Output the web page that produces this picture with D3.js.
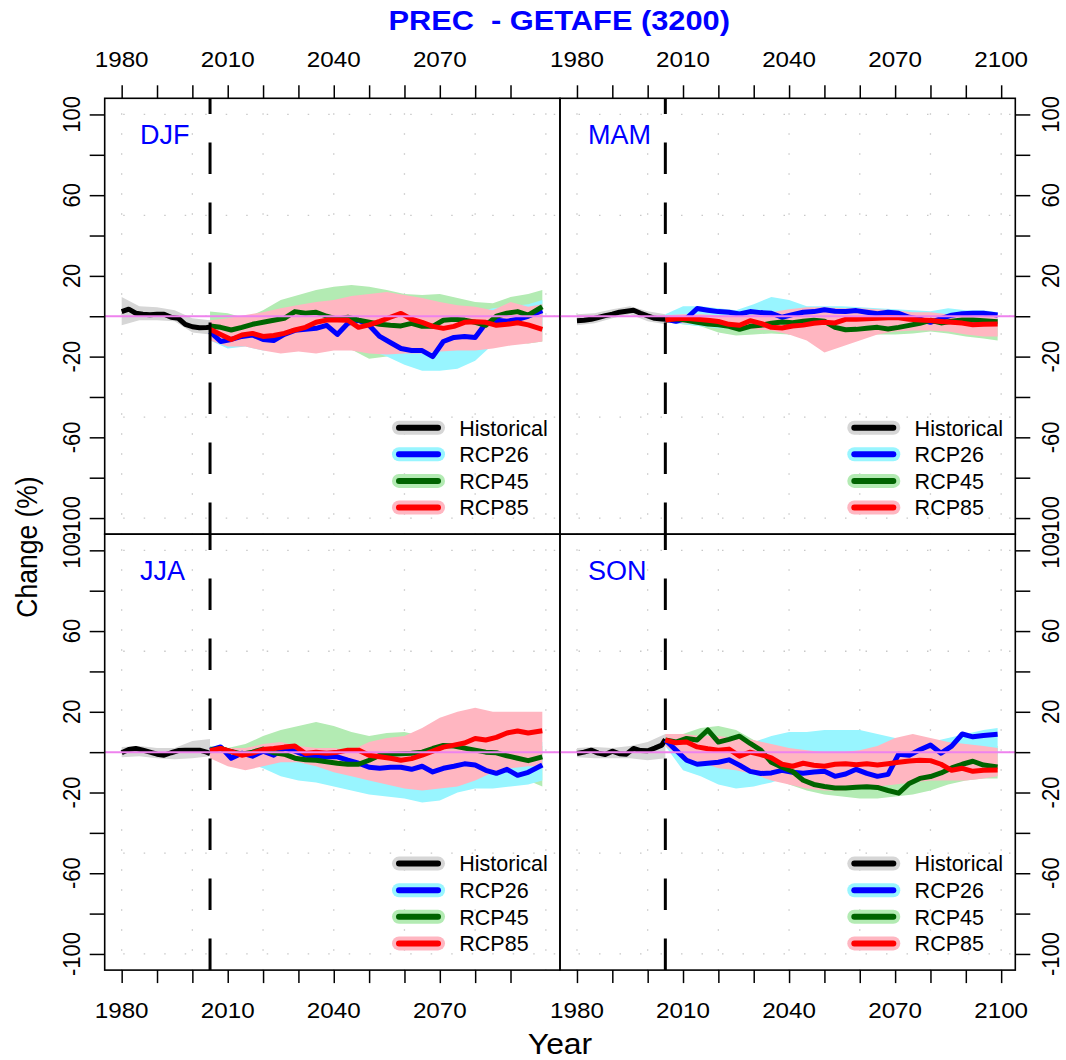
<!DOCTYPE html>
<html>
<head>
<meta charset="utf-8">
<script src="https://cdn.jsdelivr.net/npm/d3@7"></script>
<style>
  body { margin: 0; background: #fff; }
  text { font-family: "Liberation Sans", Arial, Helvetica, sans-serif; }
</style>
</head>
<body>
<div id="chart"></div>
<script>
// ---- data ----
const seasons = ["DJF", "MAM", "JJA", "SON"];
const legendNames = ["Historical", "RCP26", "RCP45", "RCP85"];
const xTickLabels = [1980, 2010, 2040, 2070, 2100];
const yTickLabels = [-100, -60, -20, 20, 60, 100];

const histYears = [1980, 1982, 1984, 1986, 1988, 1990, 1992, 1994, 1996, 1998, 2000, 2002, 2004, 2005];
const histBandYears = [1980, 1985, 1990, 1995, 2000, 2005];
const rcpYears = [2005, 2008, 2011, 2014, 2017, 2020, 2023, 2026, 2029, 2032, 2035, 2038, 2041, 2044, 2047, 2050,
                  2053, 2056, 2059, 2062, 2065, 2068, 2071, 2074, 2077, 2080, 2083, 2086, 2089, 2092, 2095, 2099];
const bandYears = [2005, 2010, 2015, 2020, 2025, 2030, 2035, 2040, 2045, 2050,
                   2055, 2060, 2065, 2070, 2075, 2080, 2085, 2090, 2095, 2099];

// DJF
const djfHist = [2.3, 3.5, 1.5, 1, 0.8, 1, 1, -0.5, -1, -4, -5.2, -5.7, -5.6, -5.5];
const djfHistLo = [-4.5, -2, -2, -2.5, -8, -9];
const djfHistHi = [9.5, 5, 4.5, 3, -1, -2];
const djfRcp26 = [-7.6, -12.5, -11.5, -10, -9.3, -11.5, -12, -9, -7, -6.5, -6, -4.5, -9, -3.5, -2, -4.5,
                  -10, -13, -16, -17, -17, -20, -12.5, -10.5, -10, -10.5, -3.5, -2, -2.5, -1.5, 0, 2.8];
const djfRcp45 = [-4.8, -5.5, -6.8, -5.5, -4, -3, -2, -1, 2.3, 1.5, 2, 0, -1.5, -0.5, -1.9, -3,
                  -4, -4.5, -4.8, -3.5, -5, -5, -2, -1.5, -1.9, -3, -4.5, 0, 1.5, 2.3, 0.6, 4.7];
const djfRcp85 = [-6.5, -9, -11.5, -9.3, -8.5, -10, -9.5, -8.5, -6.8, -5.5, -3, -1.9, -1.8, -2, -5.5, -4.3,
                  -2.5, -0.5, 1.4, -1.5, -3, -5, -6, -5, -3, -2.7, -3, -4.5, -4, -3.2, -4.3, -6.5];
const djfRcp26Lo = [-12, -16, -15, -17, -16, -14, -13, -15, -14, -17, -20, -24, -27, -27, -26, -22, -14, -12, -10, -8];
const djfRcp26Hi = [-2, -4, -3, 0, 3, 4, 5, 4, 6, 8, 6, 4, 2, 0, 1, 2, 4, 5, 6, 8];
const djfRcp45Lo = [-10, -15, -12, -12, -15, -16.5, -15, -13.5, -16.5, -21, -20, -16.5, -16.5, -16.5, -17.5, -15, -12, -12.5, -13.5, -12.5];
const djfRcp45Hi = [2.3, 1.5, -1, 3, 8, 10.5, 13, 14.6, 15.5, 14.6, 13, 11, 10.5, 11, 9, 7, 6.5, 9.5, 11, 13];
const djfRcp85Lo = [-12, -15, -15, -17, -18.5, -17.5, -18.5, -17, -17, -18.5, -19, -18.5, -18.5, -17.5, -17, -17, -16, -14.5, -13.5, -12.5];
const djfRcp85Hi = [-2, -1, 0.6, 2, 4, 5.6, 7, 8, 10, 11, 12, 10.5, 9, 7, 5.5, 4.7, 3, 7, 4.7, 6];

// MAM
const mamHist = [-2.2, -2, -1.5, -0.6, 0.3, 1, 2, 2.5, 3, 1.5, 0.2, -1, -1.4, -1.5];
const mamHistLo = [-4.5, -3.5, -1, 1, -2.5, -4];
const mamHistHi = [1, 1.5, 3.5, 5, 2.5, 1];
const mamRcp26 = [-1.5, -2.5, -1, 3.8, 3, 2.3, 2, 1.1, 2.3, 1.8, 1.5, -0.5, 0.8, 2, 2.3, 3.2,
                  2.5, 2.3, 2.8, 2, 1.2, 2, 1.5, -0.5, -1.5, -3, -1.2, 0.5, 1.3, 1.5, 1.5, 0.6];
const mamRcp45 = [-1.9, -1.2, -2, -3, -3.8, -4.2, -5, -6.5, -5, -4.5, -3.5, -2.8, -3.2, -2.5, -2, -2.5,
                  -5.5, -6.7, -6.5, -6, -5.5, -6.3, -5.5, -4.5, -3.5, -2, -3.3, -2.5, -1.9, -1.9, -2.2, -2.7];
const mamRcp85 = [-1.9, -1.3, -1, -1.5, -2, -2.6, -4, -4.5, -2.2, -3.5, -5.5, -5.8, -4.8, -4.4, -3.5, -3,
                  -3.3, -1.5, -1.5, -1.3, -1, -0.7, -0.8, -1.5, -1.8, -2.1, -2.6, -3, -3.4, -4.2, -4, -3.8];
const mamRcp26Lo = [-3, -4, -5, -6, -6, -6, -6.5, -7, -6.5, -5.5, -6, -6, -5.5, -6, -6, -6, -6, -6, -6, -5];
const mamRcp26Hi = [1, 5, 5, 4, 3, 6, 9.5, 8, 5, 5, 5, 4.5, 4, 3.5, 3, 2.5, 4, 3, 3, 2];
const mamRcp45Lo = [-3, -4, -5, -8, -9.5, -9, -8.5, -9, -9.5, -9.5, -9, -9, -9, -9, -8.5, -7.5, -8.5, -10, -11, -12];
const mamRcp45Hi = [0, 1, 1, 0, 0, 0.5, 1, 1, 1.5, 2, 1, 0, 0, 0.5, 1, 1.5, 1, 0, -0.5, -0.5];
const mamRcp85Lo = [-3, -3.5, -4, -5, -6, -6.5, -7, -9, -12, -18, -15, -12, -9, -7.5, -7, -7, -7.5, -9, -10, -10];
const mamRcp85Hi = [0.5, 1, 1, 0.5, 0, 1, 2, 3.5, 4.5, 4.5, 4, 4, 3.5, 3, 2, 2, 1, 0.5, 0, 0];

// JJA
const jjaHist = [-0.3, 1.3, 1.8, 1, 0, -1, -1.5, -0.3, 0.8, 1, 1, 1, 0, -0.7];
const jjaHistLo = [-2.5, -2, -3, -3.5, -3, -2];
const jjaHistHi = [2.5, 3, 2, 2, 5.5, 6.5];
const jjaRcp26 = [1, 2.6, -3, -0.5, -2, 0.5, -1.5, 2, 0.5, -1.5, -2.3, -2.3, -2.3, -4, -5.5, -7.5,
                  -8, -7.5, -7.5, -8.5, -7, -9.8, -8, -7, -5.8, -6.4, -9, -10.5, -8.5, -11.5, -10, -6.4];
const jjaRcp45 = [1, 1.8, 0.3, -1, 0, 1.5, -0.3, -1, -3, -3.8, -4, -4.8, -5.5, -6, -6, -4,
                  -1.5, -1, -0.8, -0.5, 0, 1.8, 3.3, 3, 2, 1, 0, -0.3, -1.8, -3, -4.2, -2.3];
const jjaRcp85 = [0.7, 1.8, 0.3, -1.5, -0.5, 1.3, 1.8, 2.5, 3, -0.7, 0, -0.5, 0, 1, 1, -1.5,
                  -2.3, -3, -4, -3.2, -1.5, 0.5, 2.5, 3.5, 4.5, 6.8, 6, 7.3, 9.5, 10.5, 9.5, 10.6];
const jjaRcp26Lo = [-1, -3, -5, -8, -12, -14, -15, -17, -19, -21, -22, -23, -25, -24, -20, -18, -18, -17, -16, -14];
const jjaRcp26Hi = [2, 2, 0, 0, 1, 0, -1, -1, 0, -1, -1, -1, -1, 0, 0, 0, 0, 1, 2, 5];
const jjaRcp45Lo = [-2, -3, -3, -2, -4, -7, -9, -11, -12, -13, -13, -12, -11, -10, -8, -7, -8, -10, -14, -17];
const jjaRcp45Hi = [3, 2, 4, 8, 11, 13, 15, 13, 10, 8, 9.5, 10, 8, 7, 5.5, 5, 5, 5, 4.5, 3];
const jjaRcp85Lo = [-3, -7, -9, -7, -5, -5, -7, -10, -12, -14, -16, -18, -19, -18, -17, -14, -10, -8, -7, -7];
const jjaRcp85Hi = [0, 2, 2, 4, 5, 3, 2, 2, 1, 5, 7, 8, 12, 17, 20, 22, 20, 20, 20, 20];

// SON
const sonHist = [-0.7, 0, 1, -0.5, -1.2, 0.5, -0.8, -1, 1.8, 0.8, 0.7, 2, 3.5, 6.3];
const sonHistLo = [-2.5, -3, -3, -3, -4, -3];
const sonHistHi = [2, 2.5, 2, 3, 5, 9];
const sonRcp26 = [6, 1, -4, -6, -5.5, -5, -3.8, -6.5, -9.5, -10.6, -10.3, -9, -10, -10.5, -9.8, -9.5,
                  -12, -10.8, -8.5, -10.5, -12, -11, -1, -1.5, 1.2, 3.5, -0.5, 3, 9, 7.6, 8.3, 8.9];
const sonRcp45 = [6, 5, 6.8, 6, 11, 5, 6.3, 7.9, 4.3, 1, -5, -7.5, -9.6, -13.9, -16, -17,
                  -17.8, -17.8, -17.4, -17.2, -17.5, -19, -20.3, -15.5, -13, -12.1, -10.3, -7.8, -6, -4.5, -6.4, -7.3];
const sonRcp85 = [6, 4.6, 5, 2.6, 1.7, 1, 1.5, -2, 0, -1.2, -2.8, -6, -7, -5.5, -6.5, -7,
                  -6, -5.8, -6.2, -5.8, -6.4, -5.7, -5, -4.4, -4, -4.2, -6, -9, -8, -9.5, -9, -8.9];
const sonRcp26Lo = [3, -9, -12, -16, -18, -17, -15, -12, -13, -15, -16, -15, -14, -12, -10, -8, -5, -3, -3, -2];
const sonRcp26Hi = [8, 7, 5, 4, 3, 5, 8, 10, 10, 11, 11, 11, 9, 7, 5, 5, 7, 9, 11, 12];
const sonRcp45Lo = [4, 0, -2, -3, -5, -8, -12, -16, -19, -21, -22, -23, -23, -22, -21, -19, -16, -14, -13, -13];
const sonRcp45Hi = [9, 9, 12, 13, 11, 6, 2, -2, -5, -7, -8, -8, -8, -8, -5, -3, 0, 2, 3, 3];
const sonRcp85Lo = [3, -3, -5, -8, -9, -11, -14, -16, -18, -19, -19, -18, -17, -16, -15, -14, -14, -14, -13, -12];
const sonRcp85Hi = [9, 9, 8, 8, 7, 6, 4, 2, 1, 0, 0, 1, 3, 7, 9, 7, 5, 4, 3, 2];

// ---- colours ----
const lineColors = ["#000000", "#0000ff", "#006400", "#ff0000"];
const bandColors = ["#d6d6d6", "#98f5ff", "#b3ebb3", "#ffb6c1"];

// table per panel built from the arrays above
const panels = [
  {season: "DJF", col: 0, row: 0, hist: [djfHist, djfHistLo, djfHistHi],
   rcp: [[djfRcp26, djfRcp26Lo, djfRcp26Hi], [djfRcp45, djfRcp45Lo, djfRcp45Hi], [djfRcp85, djfRcp85Lo, djfRcp85Hi]]},
  {season: "MAM", col: 1, row: 0, hist: [mamHist, mamHistLo, mamHistHi],
   rcp: [[mamRcp26, mamRcp26Lo, mamRcp26Hi], [mamRcp45, mamRcp45Lo, mamRcp45Hi], [mamRcp85, mamRcp85Lo, mamRcp85Hi]]},
  {season: "JJA", col: 0, row: 1, hist: [jjaHist, jjaHistLo, jjaHistHi],
   rcp: [[jjaRcp26, jjaRcp26Lo, jjaRcp26Hi], [jjaRcp45, jjaRcp45Lo, jjaRcp45Hi], [jjaRcp85, jjaRcp85Lo, jjaRcp85Hi]]},
  {season: "SON", col: 1, row: 1, hist: [sonHist, sonHistLo, sonHistHi],
   rcp: [[sonRcp26, sonRcp26Lo, sonRcp26Hi], [sonRcp45, sonRcp45Lo, sonRcp45Hi], [sonRcp85, sonRcp85Lo, sonRcp85Hi]]}
];

const width = 1066, height = 1060;
const left0 = 104.7, top0 = 98.3;
const panelW = 455.3, panelH = 435.9;
const sx = 1.1;   // the picture's text is a little wide

const svg = d3.select("#chart")
  .append("svg")
  .attr("width", width)
  .attr("height", height);

function addText(g, x, y, str, size, opt) {
  opt = opt || {};
  let tr = `translate(${x},${y}) scale(${opt.sx || 1},1)`;
  if (opt.rot) tr += ` rotate(${opt.rot})`;
  return g.append("text")
    .attr("transform", tr)
    .attr("text-anchor", opt.anchor || "start")
    .attr("font-size", size)
    .attr("font-weight", opt.bold ? "bold" : "normal")
    .attr("fill", opt.fill || "#000")
    .text(str);
}

// band order in the picture: green under cyan under pink
const bandOrder = [1, 0, 2];

panels.forEach(function(p, i) {
  const x0 = left0 + p.col * panelW;
  const y0 = top0 + p.row * panelH;

  const xScale = d3.scaleLinear().domain([1975.2, 2104.0]).range([x0, x0 + panelW]);
  const yScale = d3.scaleLinear().domain([-108, 108]).range([y0 + panelH, y0]);

  const g = svg.append("g");

  svg.append("clipPath").attr("id", "clip" + i)
    .append("rect").attr("x", x0).attr("y", y0).attr("width", panelW).attr("height", panelH);
  const plot = g.append("g").attr("clip-path", `url(#clip${i})`);

  // dotted grid
  [1980, 2000, 2020, 2040, 2060, 2080, 2100].forEach(function(v) {
    plot.append("line")
      .attr("x1", xScale(v)).attr("x2", xScale(v))
      .attr("y1", y0).attr("y2", y0 + panelH)
      .attr("stroke", "#c8c8c8").attr("stroke-width", 1.3)
      .attr("stroke-dasharray", "1.5 18.5").attr("stroke-dashoffset", 5);
  });
  [-100, -50, 0, 50, 100].forEach(function(v) {
    plot.append("line")
      .attr("x1", x0).attr("x2", x0 + panelW)
      .attr("y1", yScale(v)).attr("y2", yScale(v))
      .attr("stroke", "#c8c8c8").attr("stroke-width", 1.3)
      .attr("stroke-dasharray", "1.5 19").attr("stroke-dashoffset", 2);
  });

  // bands
  const histBand = histBandYears.map((yr, k) => ({x: yr, lo: p.hist[1][k], hi: p.hist[2][k]}));
  const area = d3.area().x(d => xScale(d.x)).y0(d => yScale(d.lo)).y1(d => yScale(d.hi));
  plot.append("path").datum(histBand).attr("d", area).attr("fill", bandColors[0]);

  bandOrder.forEach(function(s) {
    const band = bandYears.map((yr, k) => ({x: yr, lo: p.rcp[s][1][k], hi: p.rcp[s][2][k]}));
    plot.append("path").datum(band).attr("d", area).attr("fill", bandColors[s + 1]);
  });

  // lines
  const line = d3.line().x(d => xScale(d.x)).y(d => yScale(d.y));
  plot.append("path")
    .datum(histYears.map((yr, k) => ({x: yr, y: p.hist[0][k]})))
    .attr("d", line).attr("fill", "none")
    .attr("stroke", lineColors[0]).attr("stroke-width", 5).attr("stroke-linejoin", "round");
  p.rcp.forEach(function(r, s) {
    plot.append("path")
      .datum(rcpYears.map((yr, k) => ({x: yr, y: r[0][k]})))
      .attr("d", line).attr("fill", "none")
      .attr("stroke", lineColors[s + 1]).attr("stroke-width", 5).attr("stroke-linejoin", "round");
  });

  // zero line and 2005 marker
  plot.append("line")
    .attr("x1", x0).attr("x2", x0 + panelW)
    .attr("y1", yScale(0)).attr("y2", yScale(0))
    .attr("stroke", "#ee82ee").attr("stroke-width", 2);
  plot.append("line")
    .attr("x1", xScale(2005)).attr("x2", xScale(2005))
    .attr("y1", y0).attr("y2", y0 + panelH)
    .attr("stroke", "#000").attr("stroke-width", 3)
    .attr("stroke-dasharray", "31.5 28.5").attr("stroke-dashoffset", 15.8);

  // season label
  addText(g, x0 + (p.col === 0 ? 35.3 : 28), y0 + 46, p.season, 27, {fill: "#0000ff"});

  // legend
  const lx1 = x0 + panelW - 161, lx2 = x0 + panelW - 122;
  legendNames.forEach(function(name, k) {
    const ly = y0 + panelH - 106.5 + k * 26.6;
    g.append("line").attr("x1", lx1).attr("x2", lx2).attr("y1", ly).attr("y2", ly)
      .attr("stroke", bandColors[k]).attr("stroke-width", 14).attr("stroke-linecap", "round");
    g.append("line").attr("x1", lx1).attr("x2", lx2).attr("y1", ly).attr("y2", ly)
      .attr("stroke", lineColors[k]).attr("stroke-width", 6).attr("stroke-linecap", "round");
    addText(g, x0 + panelW - 100.7, ly + 7.8, name, 21.5);
  });

  // panel frame
  g.append("rect")
    .attr("x", x0).attr("y", y0).attr("width", panelW).attr("height", panelH)
    .attr("fill", "none").attr("stroke", "#000").attr("stroke-width", 1.6);

  // x axis ticks and labels
  const xTicks = d3.range(1980, p.col === 0 ? 2091 : 2101, 10);
  const xLabs = xTickLabels.filter(v => p.col === 1 || v < 2100);
  if (p.row === 0) {
    g.append("g").attr("transform", `translate(0,${y0})`)
      .call(d3.axisTop(xScale).tickValues(xTicks).tickSize(13).tickFormat(""))
      .call(a => a.select(".domain").remove())
      .selectAll("line").attr("stroke-width", 1.5);
    xLabs.forEach(v => addText(g, xScale(v), 66.7, v, 22, {anchor: "middle", sx: sx}));
  } else {
    g.append("g").attr("transform", `translate(0,${y0 + panelH})`)
      .call(d3.axisBottom(xScale).tickValues(xTicks).tickSize(13).tickFormat(""))
      .call(a => a.select(".domain").remove())
      .selectAll("line").attr("stroke-width", 1.5);
    xLabs.forEach(v => addText(g, xScale(v), 1017.7, v, 22, {anchor: "middle", sx: sx}));
  }

  // y axis ticks and labels
  const yTicks = d3.range(-100, 101, 20);
  if (p.col === 0) {
    g.append("g").attr("transform", `translate(${x0},0)`)
      .call(d3.axisLeft(yScale).tickValues(yTicks).tickSize(15).tickFormat(""))
      .call(a => a.select(".domain").remove())
      .selectAll("line").attr("stroke-width", 1.5);
    yTickLabels.forEach(v => addText(g, 80, yScale(v), v, 22, {anchor: "middle", rot: -90, sx: sx}));
  } else {
    g.append("g").attr("transform", `translate(${x0 + panelW},0)`)
      .call(d3.axisRight(yScale).tickValues(yTicks).tickSize(15).tickFormat(""))
      .call(a => a.select(".domain").remove())
      .selectAll("line").attr("stroke-width", 1.5);
    yTickLabels.forEach(v => addText(g, 1059, yScale(v), v, 22, {anchor: "middle", rot: -90, sx: sx}));
  }
});

// titles
addText(svg, 559.2, 29.5, "PREC  - GETAFE (3200)", 28, {anchor: "middle", bold: true, fill: "#0000ff", sx: 1.1})
  .attr("xml:space", "preserve").style("white-space", "pre");
addText(svg, 560, 1054, "Year", 29, {anchor: "middle", sx: sx});
addText(svg, 37, 547, "Change (%)", 26.5, {anchor: "middle", rot: -90, sx: sx});
</script>
</body>
</html>
